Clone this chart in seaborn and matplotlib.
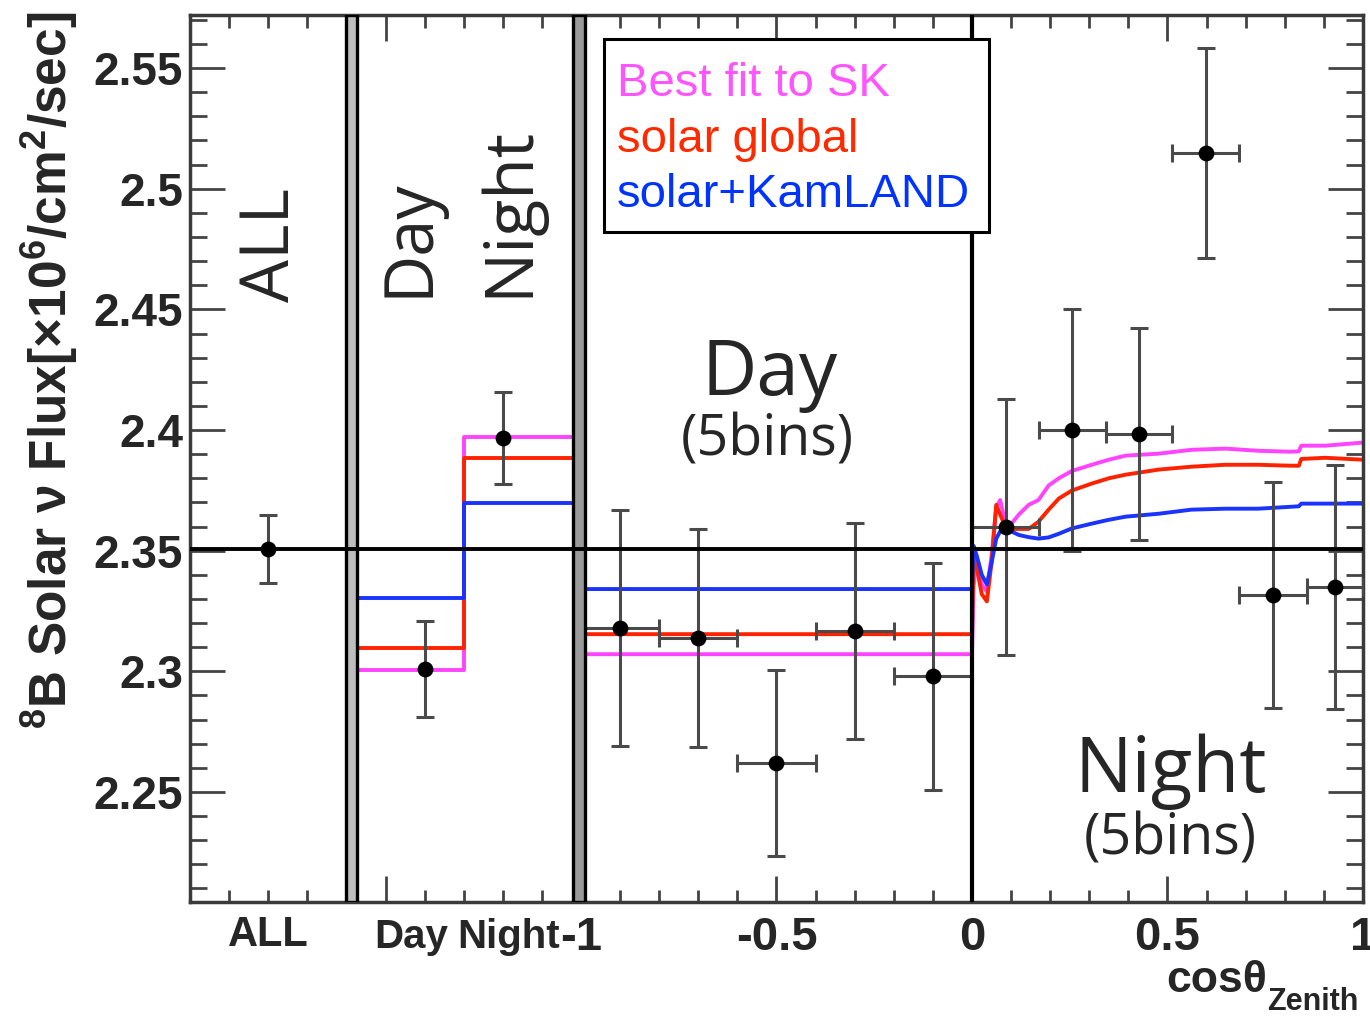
import numpy as np
import pandas as pd
import matplotlib
matplotlib.use("Agg")
import matplotlib.pyplot as plt
from matplotlib.patches import Rectangle
from matplotlib.ticker import FixedLocator
import seaborn as sns

# ---------------- data ----------------
# integrated flux (ALL)
all_x = [-1.8]
all_flux = [2.3507]
all_err = [0.014]

# day / night flux
dn_x = [-1.4, -1.2]
dn_flux = [2.3009, 2.3967]
dn_err = [0.020, 0.019]
dn_edges = [-1.573, -1.3, -1.018]

# day zenith bins (cos < 0)
day_cos = [-0.9, -0.7, -0.5, -0.3, -0.1]
day_cos_half = [0.1, 0.1, 0.1, 0.1, 0.1]
day_flux = [2.3179, 2.3138, 2.262, 2.3167, 2.298]
day_err = [0.049, 0.045, 0.0385, 0.0447, 0.047]

# night zenith bins (cos > 0)
night_cos = [0.086, 0.257, 0.428, 0.598, 0.770, 0.929]
night_lo = [0.0, 0.171, 0.343, 0.512, 0.683, 0.857]
night_hi = [0.171, 0.343, 0.512, 0.683, 0.857, 1.0]
night_flux = [2.3598, 2.400, 2.3983, 2.5148, 2.3316, 2.3349]
night_err = [0.053, 0.050, 0.044, 0.0435, 0.047, 0.0505]

# oscillation expectations
models = ["Best fit to SK", "solar global", "solar+KamLAND"]
model_colors = ["#ff44ff", "#ff2200", "#1a33ff"]
model_dn_day = [2.3005, 2.3096, 2.3304]
model_dn_night = [2.3971, 2.3884, 2.3697]
model_cos_day = [2.3071, 2.3154, 2.3341]

curve_cos = [0.004, 0.012, 0.025, 0.038, 0.05, 0.062, 0.072, 0.085, 0.1,
             0.12, 0.145, 0.17, 0.196, 0.222, 0.255, 0.306, 0.35, 0.393,
             0.477, 0.561, 0.648, 0.732, 0.816, 0.836, 0.842, 0.903, 1.0]
curve_sk = [2.335, 2.347, 2.336, 2.333, 2.348, 2.368, 2.371, 2.362, 2.361,
            2.365, 2.369, 2.371, 2.377, 2.380, 2.383, 2.3856, 2.3877, 2.3894,
            2.3902, 2.3918, 2.3923, 2.3914, 2.3910, 2.3912, 2.3935, 2.3935, 2.3948]
curve_global = [2.350, 2.343, 2.332, 2.329, 2.345, 2.369, 2.365, 2.360, 2.359,
                2.359, 2.359, 2.362, 2.367, 2.3716, 2.3749, 2.3778, 2.380, 2.3815,
                2.3836, 2.3848, 2.3856, 2.3856, 2.3852, 2.3852, 2.388, 2.3885, 2.3877]
curve_kamland = [2.352, 2.348, 2.340, 2.336, 2.345, 2.355, 2.358, 2.359, 2.358,
                 2.3565, 2.3556, 2.355, 2.3555, 2.357, 2.3592, 2.3612, 2.3628, 2.3641,
                 2.3653, 2.367, 2.3674, 2.3674, 2.3682, 2.3684, 2.3695, 2.3695, 2.3695]
model_curves = [curve_sk, curve_global, curve_kamland]

y_ticks = [2.25, 2.3, 2.35, 2.4, 2.45, 2.5, 2.55]
y_tick_labels = ["2.25", "2.3", "2.35", "2.4", "2.45", "2.5", "2.55"]
x_ticks = [-1.5, -1.0, -0.5, 0.0, 0.5, 1.0]
x_tick_labels = ["", "-1", "-0.5", "0", "0.5", "1"]

# ---------------- long-form table of model lines ----------------
rows = []
for m, dd, dn, cd, curve in zip(models, model_dn_day, model_dn_night,
                                model_cos_day, model_curves):
    # day / night step
    for x, y in [(dn_edges[0], dd), (dn_edges[1], dd), (dn_edges[1], dn), (dn_edges[2], dn)]:
        rows.append(dict(model=m, seg="dn", x=x, flux=y))
    # flat day expectation then zenith-dependent night curve
    rows.append(dict(model=m, seg="cos", x=-1.0, flux=cd))
    rows.append(dict(model=m, seg="cos", x=0.0, flux=cd))
    for x, y in zip(curve_cos, curve):
        rows.append(dict(model=m, seg="cos", x=x, flux=y))
lines = pd.DataFrame(rows)

# ---------------- figure ----------------
sns.set_theme(style="ticks")
plt.rcParams["font.family"] = ["Liberation Sans", "DejaVu Sans"]
plt.rcParams["mathtext.fontset"] = "custom"
plt.rcParams["mathtext.rm"] = "Liberation Sans:bold"
plt.rcParams["mathtext.it"] = "Liberation Sans:bold"
plt.rcParams["mathtext.bf"] = "Liberation Sans:bold"
plt.rcParams["mathtext.default"] = "rm"

fig = plt.figure(figsize=(13.7, 10.17), dpi=100)
ax = fig.add_axes([190 / 1370, 1 - 902 / 1017, 1173 / 1370, 887 / 1017])

sns.lineplot(data=lines, x="x", y="flux", hue="model", units="seg",
             estimator=None, sort=False, palette=dict(zip(models, model_colors)),
             hue_order=models, linewidth=2.8, legend=False, ax=ax, zorder=2)

err_kw = dict(fmt="none", ecolor="#4a4a4a", elinewidth=2.2, capsize=6.5,
              capthick=2.2, zorder=4)
ax.errorbar(all_x, all_flux, yerr=all_err, **err_kw)
ax.errorbar(dn_x, dn_flux, yerr=dn_err, **err_kw)
ax.errorbar(day_cos, day_flux, yerr=day_err, xerr=day_cos_half, **err_kw)
night_xerr = [np.array(night_cos) - np.array(night_lo),
              np.array(night_hi) - np.array(night_cos)]
ax.errorbar(night_cos, night_flux, yerr=night_err, xerr=night_xerr, **err_kw)

pts_x = all_x + dn_x + day_cos + night_cos
pts_y = all_flux + dn_flux + day_flux + night_flux
sns.scatterplot(x=pts_x, y=pts_y, color="black", s=130, edgecolor="black",
                linewidth=0, ax=ax, zorder=5)

# panel separators and reference lines
for x0, x1, fc in [(-1.601, -1.573, "#bdbdbd"), (-1.020, -0.990, "#9a9a9a")]:
    ax.axvspan(x0, x1, facecolor=fc, edgecolor="black", linewidth=2.4, zorder=6)
ax.axvline(0.0, color="black", lw=3.0, zorder=6)
ax.axhline(all_flux[0], color="black", lw=2.8, zorder=7)

ax.set_xlim(-2.0, 1.0)
ax.set_ylim(2.2044, 2.572)
ax.set_xlabel("")
ax.set_ylabel("")

ax.xaxis.set_major_locator(FixedLocator(x_ticks))
ax.set_xticklabels(x_tick_labels, fontsize=34, fontweight="bold")
minor_x = [v for v in np.round(np.arange(-1.9, 1.0, 0.1), 2) if round(v * 2, 6) % 1 != 0]
ax.xaxis.set_minor_locator(FixedLocator(minor_x))
ax.yaxis.set_major_locator(FixedLocator(y_ticks))
ax.set_yticklabels(y_tick_labels, fontsize=33, fontweight="bold")
ax.yaxis.set_minor_locator(FixedLocator(np.round(np.arange(2.21, 2.571, 0.01), 3)))

ax.tick_params(axis="both", which="both", direction="in", top=True, right=True,
               color="#444444", width=2)
ax.tick_params(axis="y", which="major", length=25, pad=5)
ax.tick_params(axis="y", which="minor", length=12)
ax.tick_params(axis="x", which="major", length=19, pad=10)
ax.tick_params(axis="x", which="minor", length=9)
for sp in ax.spines.values():
    sp.set_color("#3a3a3a")
    sp.set_linewidth(2.5)

# category labels under the left panels
xt = ax.get_xaxis_transform()
ax.text(all_x[0], -0.037, "ALL", transform=xt, ha="center", va="center",
        fontsize=30, fontweight="bold")
ax.text(-1.435, -0.040, "Day", transform=xt, ha="center", va="center",
        fontsize=29, fontweight="bold")
ax.text(-1.185, -0.040, "Night", transform=xt, ha="center", va="center",
        fontsize=29, fontweight="bold")

# axis titles
fig.text(1267 / 1370, 1 - 992 / 1017, "cosθ", ha="right", va="baseline",
         fontsize=32, fontweight="bold")
fig.text(1267 / 1370, 1 - 1010 / 1017, "Zenith", ha="left", va="baseline",
         fontsize=22, fontweight="bold")
fig.text(50 / 1370, 1 - 370 / 1017,
         r"$^{8}$B Solar ν Flux[×10$^{6}$/cm$^{2}$/sec]",
         rotation=90, ha="center", va="center", fontsize=37, fontweight="bold")

# panel annotations
big = ["Open Sans", "DejaVu Sans"]
ax.text(-1.793, 2.453, "ALL", rotation=90, ha="center", va="bottom",
        fontsize=49, family=big)
ax.text(-1.437, 2.455, "Day", rotation=90, ha="center", va="bottom",
        fontsize=48, family=big)
ax.text(-1.182, 2.455, "Night", rotation=90, ha="center", va="bottom",
        fontsize=49, family=big)
ax.text(-0.519, 2.4145, "Day", ha="center", va="baseline", fontsize=55, family=big)
ax.text(-0.524, 2.3954, "(5bins)", ha="center", va="center", fontsize=40, family=big)
ax.text(0.509, 2.25, "Night", ha="center", va="baseline", fontsize=55, family=big)
ax.text(0.506, 2.23, "(5bins)", ha="center", va="center", fontsize=40, family=big)

# model key
fig.add_artist(Rectangle((604 / 1370, 1 - 232 / 1017), 385 / 1370, 193 / 1017,
                         transform=fig.transFigure, facecolor="white",
                         edgecolor="black", linewidth=2.2, zorder=8))
for name, col, base in zip(models, ["#ff55ff", "#ff2a00", "#0033ff"], [96, 152, 207]):
    fig.text(617 / 1370, 1 - base / 1017, name, color=col, ha="left",
             va="baseline", fontsize=34, zorder=9)

fig.savefig("out.png", dpi=100)
